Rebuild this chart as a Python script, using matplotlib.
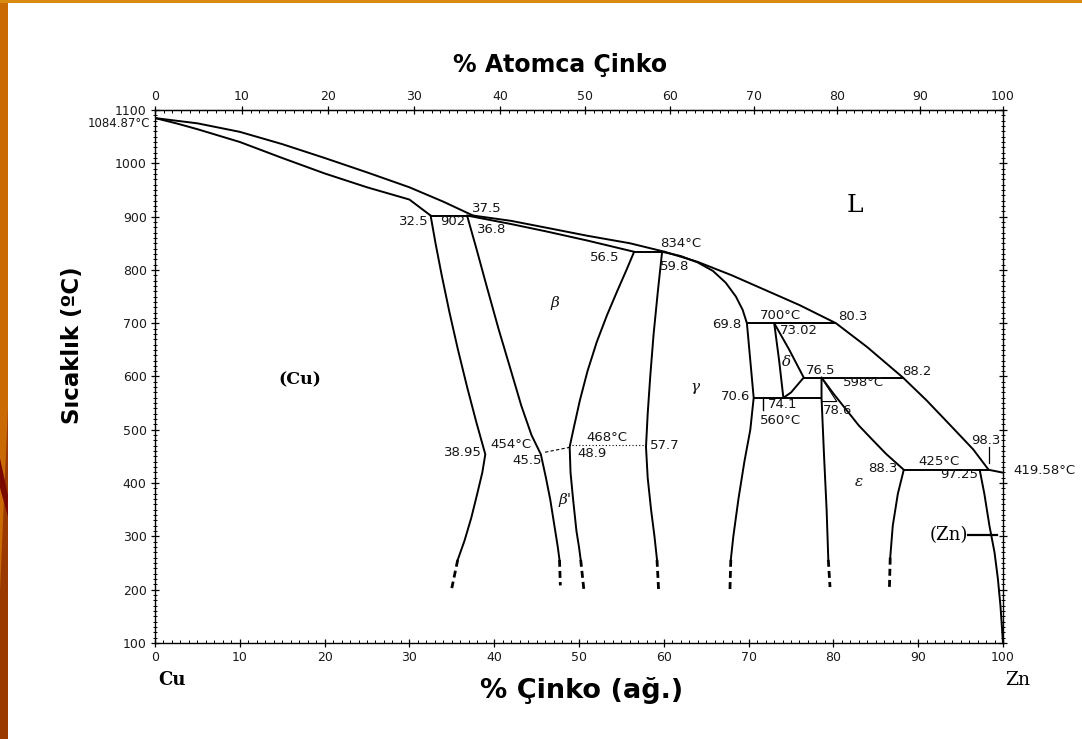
import matplotlib
matplotlib.use("Agg")
import matplotlib.pyplot as plt
import matplotlib.patches as patches
from matplotlib.ticker import MultipleLocator
import numpy as np

# Cu-Zn phase diagram, compositions in wt% Zn, temperatures in degC
liq_cu_wt = [0, 5, 10, 15, 20, 25, 30, 34, 37.5]
liq_cu_T = [1084.87, 1075, 1059, 1036, 1010, 983, 955, 928, 902]
sol_cu_wt = [0, 2.5, 5, 10, 15, 20, 25, 30, 32.5]
sol_cu_T = [1084.87, 1075, 1064, 1040, 1010, 981, 955, 932, 902]

liq_beta_wt = [37.5, 42, 46.2, 51, 56, 60.1]
liq_beta_T = [902, 892, 879, 864, 850, 834]
sol_beta_wt = [36.8, 42, 46.2, 51, 56.5]
sol_beta_T = [902, 886, 872, 855, 834]

liq_zn_wt = [60.1, 64, 68, 72, 76, 80.3, 84, 88.2, 91, 94, 96.5, 98.3]
liq_zn_T = [834, 815, 790, 762, 734, 700, 655, 598, 555, 505, 463, 425]

sol_gamma_wt = [59.8, 62, 64, 65.8, 67.3, 68.5, 69.3, 69.8]
sol_gamma_T = [834, 826, 814, 798, 776, 750, 725, 700]

alpha_wt = [32.5, 33.08, 33.81, 34.73, 35.73, 36.81, 37.88, 38.95,
            38.6, 38.0, 37.3, 36.5, 35.7]
alpha_T = [902, 850, 790, 720, 650, 580, 515, 454,
           420, 380, 335, 292, 256]
beta_l_wt = [36.8, 37.9, 39.1, 40.5, 41.9, 43.2, 44.4, 45.5,
             46.1, 46.6, 47.1, 47.5, 47.7]
beta_l_T = [902, 840, 770, 690, 615, 545, 490, 454,
            410, 370, 320, 280, 256]
beta_r_wt = [56.5, 55.6, 54.5, 53.3, 52.1, 51.0, 50.1, 49.4, 48.9,
             49.0, 49.3, 49.7, 50.0, 50.2]
beta_r_T = [834, 800, 760, 715, 665, 610, 555, 505, 468,
            420, 370, 310, 280, 256]
gamma_l_wt = [59.8, 59.3, 58.8, 58.4, 58.1, 57.9, 58.1, 58.5, 58.9, 59.2]
gamma_l_T = [834, 760, 680, 600, 530, 468, 410, 350, 300, 256]
gamma_r_wt = [69.8, 70.2, 70.6, 70.2, 69.5, 68.8, 68.2, 67.9]
gamma_r_T = [700, 630, 560, 500, 440, 370, 300, 256]
delta_l_wt = [73.02, 73.6, 74.1]
delta_l_T = [700, 630, 560]
delta_r_wt = [73.02, 74.8, 76.5, 75.0, 74.1]
delta_r_T = [700, 650, 598, 570, 560]
eps_l_wt = [78.6, 78.6, 78.9, 79.2, 79.4]
eps_l_T = [598, 560, 450, 350, 256]
eps_sol_wt = [78.6, 80.0, 81.5, 83.0, 84.5, 86.2, 88.3]
eps_sol_T = [598, 568, 538, 508, 483, 455, 425]
eps_r_wt = [88.3, 87.6, 87.0, 86.7]
eps_r_T = [425, 380, 320, 260]
zn_wt = [97.25, 97.8, 98.4, 99.0, 99.4, 99.7, 100]
zn_T = [425, 380, 320, 270, 220, 170, 100]
zn_liq_wt = [98.3, 100]
zn_liq_T = [425, 419.58]

# dashed low-temperature ends (start wt, end wt, start T, end T)
low_start_wt = [35.7, 47.7, 50.2, 59.2, 67.9, 79.4, 86.7]
low_end_wt = [35.0, 47.8, 50.6, 59.4, 67.8, 79.6, 86.6]
low_start_T = [256, 256, 256, 256, 256, 256, 260]
low_end_T = [203, 208, 196, 195, 200, 205, 200]

# invariant reaction lines
iso_T = [902, 834, 700, 598, 560, 425]
iso_left = [32.5, 56.5, 69.8, 76.5, 70.6, 88.3]
iso_right = [37.5, 60.1, 80.3, 88.2, 78.6, 98.3]

# beta -> beta' ordering
order_wt = [46.0, 49.2]
order_T = [458, 468]
order2_wt = [49.2, 58.0]
order2_T = [471, 471]

# text, x (wt%), T, alignment
labels = [
    ("37.5", 37.4, 916, "left"), ("32.5", 32.3, 890, "right"),
    ("902", 33.6, 890, "left"), ("36.8", 38.0, 875, "left"),
    ("56.5", 54.8, 824, "right"), ("834°C", 59.6, 850, "left"),
    ("59.8", 59.6, 807, "left"), ("69.8", 69.2, 698, "right"),
    ("700°C", 71.3, 715, "left"), ("80.3", 80.5, 712, "left"),
    ("73.02", 73.7, 687, "left"), ("76.5", 76.7, 612, "left"),
    ("88.2", 88.1, 610, "left"), ("598°C", 81.1, 588, "left"),
    ("70.6", 70.2, 563, "right"), ("74.1", 72.3, 547, "left"),
    ("560°C", 71.3, 517, "left"), ("78.6", 78.8, 537, "left"),
    ("38.95", 38.6, 458, "right"), ("454°C", 39.5, 473, "left"),
    ("45.5", 42.1, 443, "left"), ("468°C", 50.9, 485, "left"),
    ("48.9", 49.8, 456, "left"), ("57.7", 58.4, 471, "left"),
    ("88.3", 87.6, 428, "right"), ("425°C", 90.0, 441, "left"),
    ("97.25", 92.6, 417, "left"), ("98.3", 96.3, 479, "left"),
    ("419.58°C", 101.2, 423, "left"),
]

fig = plt.figure(figsize=(10.82, 7.39), dpi=100)
fig.patch.set_facecolor("white")

# slide decoration: orange strip on the left and thin orange rule on top
fig.add_artist(patches.Rectangle((0, 0), 8 / 1082, 1, transform=fig.transFigure,
                                 facecolor="#C96A05", edgecolor="none"))
fig.add_artist(patches.Polygon([(0, 0), (8 / 1082, 0), (8 / 1082, 0.45), (0, 0.2)],
                               transform=fig.transFigure, facecolor="#9A3A00",
                               edgecolor="none"))
fig.add_artist(patches.Polygon([(0, 0.38), (8 / 1082, 0.33), (8 / 1082, 0.30), (0, 0.34)],
                               transform=fig.transFigure, facecolor="#7A0A00",
                               edgecolor="none"))
fig.add_artist(patches.Rectangle((0, 1 - 3 / 739), 1, 3 / 739, transform=fig.transFigure,
                                 facecolor="#D98A10", edgecolor="none"))

ax = fig.add_axes([155 / 1082, 1 - 643 / 739, 848 / 1082, 533 / 739])
ax.set_xlim(0, 100)
ax.set_ylim(100, 1100)

lw = 1.4
curves = [
    (liq_cu_wt, liq_cu_T), (sol_cu_wt, sol_cu_T),
    (liq_beta_wt, liq_beta_T), (sol_beta_wt, sol_beta_T),
    (liq_zn_wt, liq_zn_T), (sol_gamma_wt, sol_gamma_T),
    (alpha_wt, alpha_T), (beta_l_wt, beta_l_T), (beta_r_wt, beta_r_T),
    (gamma_l_wt, gamma_l_T), (gamma_r_wt, gamma_r_T),
    (delta_l_wt, delta_l_T), (delta_r_wt, delta_r_T),
    (eps_l_wt, eps_l_T), (eps_sol_wt, eps_sol_T), (eps_r_wt, eps_r_T),
    (zn_wt, zn_T), (zn_liq_wt, zn_liq_T),
]
for x, y in curves:
    ax.plot(x, y, color="black", lw=lw, solid_capstyle="round",
            solid_joinstyle="round")

for i in range(len(low_start_wt)):
    ax.plot([low_start_wt[i], low_end_wt[i]], [low_start_T[i], low_end_T[i]],
            color="black", lw=2.0, ls=(0, (2.5, 1.5)))

ax.hlines(iso_T, iso_left, iso_right, color="black", lw=lw)
ax.plot(order_wt, order_T, color="black", lw=0.8, ls=(0, (3, 2)))
ax.plot(order2_wt, order2_T, color="black", lw=0.8, ls=(0, (1, 2)))

# leader lines
ax.plot([98.4, 98.4], [438, 468], color="black", lw=0.9)
ax.plot([95.9, 99.3], [303, 303], color="black", lw=1.6)
ax.plot([78.7, 80.4, 78.7], [595, 553, 553], color="black", lw=0.8)
ax.plot([71.7, 71.7], [557, 537], color="black", lw=1.0)

for txt, x, y, ha in labels:
    ax.text(x, y, txt, fontsize=9.5, ha=ha, va="center", color="#161616",
            clip_on=False)

ax.text(-0.6, 1074, "1084.87°C", fontsize=8.5, ha="right", va="center",
        color="#161616")

greek = dict(family="DejaVu Serif", style="italic", fontsize=11, color="#111111")
ax.text(47.2, 738, "β", ha="center", va="center", **greek)
ax.text(48.3, 368, "β'", ha="center", va="center", **greek)
ax.text(63.7, 580, "γ", ha="center", va="center", **greek)
ax.text(74.5, 627, "δ", ha="center", va="center", **greek)
ax.text(83.0, 402, "ε", ha="center", va="center", **greek)
ax.text(17.1, 593, "(Cu)", family="DejaVu Serif", fontsize=12.5,
        fontweight="bold", ha="center", va="center")
ax.text(93.6, 303, "(Zn)", family="DejaVu Serif", fontsize=13,
        ha="center", va="center")
ax.text(82.5, 920, "L", family="DejaVu Serif", fontsize=18,
        ha="center", va="center")
ax.text(0.4, 30, "Cu", family="DejaVu Serif", fontsize=13,
        fontweight="bold", ha="left", va="center", clip_on=False)
ax.text(100.2, 30, "Zn", family="DejaVu Serif", fontsize=13.5,
        ha="left", va="center", clip_on=False)

# axes styling
ax.set_xticks(range(0, 101, 10))
ax.set_yticks(range(100, 1101, 100))
ax.xaxis.set_minor_locator(MultipleLocator(1))
ax.yaxis.set_minor_locator(MultipleLocator(10))
ax.tick_params(which="major", direction="inout", length=6, width=0.9,
               labelsize=9, labelcolor="#1a1a1a", pad=3)
ax.tick_params(which="minor", direction="in", length=2.5, width=0.7)
ax.tick_params(axis="y", which="both", right=True)
ax.tick_params(axis="y", which="minor", right=True, direction="inout", length=3)
ax.tick_params(axis="x", which="both", top=False)
for s in ax.spines.values():
    s.set_linewidth(1.0)


def at_to_wt(a):
    a = np.asarray(a, dtype=float)
    return a * 65.38 / (a * 65.38 + (100 - a) * 63.546) * 100


def wt_to_at(w):
    w = np.asarray(w, dtype=float)
    return (w / 65.38) / (w / 65.38 + (100 - w) / 63.546) * 100


top = ax.secondary_xaxis("top", functions=(wt_to_at, at_to_wt))
top.set_xticks(range(0, 101, 10))
top.xaxis.set_minor_locator(MultipleLocator(1))
top.tick_params(which="major", direction="inout", length=6, width=0.9,
                labelsize=9, labelcolor="#1a1a1a", pad=2)
top.tick_params(which="minor", direction="in", length=2.5, width=0.7)

fig.text(560 / 1082, 1 - 65 / 739, "% Atomca Çinko", fontsize=17,
         fontweight="bold", ha="center", va="center")
fig.text(582 / 1082, 1 - 690 / 739, "% Çinko (ağ.)", fontsize=19.5,
         fontweight="bold", ha="center", va="center")
fig.text(72 / 1082, 1 - 345 / 739, "Sıcaklık (ºC)", fontsize=16.5,
         fontweight="bold", ha="center", va="center", rotation=90)

fig.savefig("out.png", dpi=100)
